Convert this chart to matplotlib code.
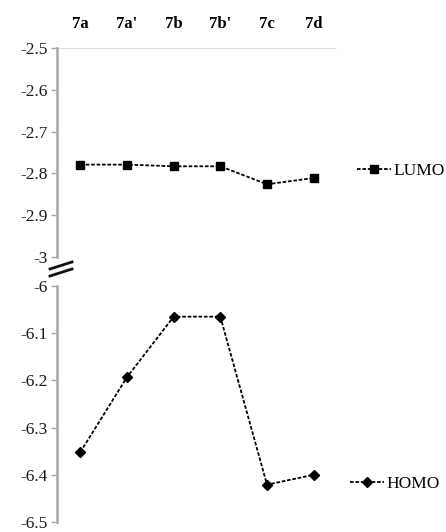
import matplotlib.pyplot as plt
from matplotlib.lines import Line2D

plt.rcParams['font.family'] = ['Liberation Serif', 'DejaVu Serif']

# compounds and orbital energies (eV)
compounds = ["7a", "7a'", "7b", "7b'", "7c", "7d"]
lumo = [-2.779, -2.779, -2.783, -2.783, -2.826, -2.811]
homo = [-6.352, -6.193, -6.065, -6.065, -6.421, -6.400]

lumo_ticks = [-2.5, -2.6, -2.7, -2.8, -2.9, -3]
homo_ticks = [-6, -6.1, -6.2, -6.3, -6.4, -6.5]

W, H = 446, 532
fig = plt.figure(figsize=(W / 100, H / 100), dpi=100)

left = 57 / W
width = (337 - 57) / W
ax_top = fig.add_axes([left, (H - 257) / H, width, (257 - 48) / H])
ax_bot = fig.add_axes([left, (H - 522) / H, width, (522 - 286) / H])

x = list(range(len(compounds)))
grey = '#a6a6a6'

for ax in (ax_top, ax_bot):
    ax.set_xlim(-0.5, len(compounds) - 0.5)
    for s in ('top', 'right', 'bottom'):
        ax.spines[s].set_visible(False)
    ax.spines['left'].set_color(grey)
    ax.spines['left'].set_linewidth(1.8)
    ax.tick_params(axis='y', colors=grey, length=4, width=1, labelsize=12.5,
                   labelcolor='#1a1a1a', pad=3)
    ax.set_xticks([])

ax_top.set_ylim(-3, -2.5)
ax_top.set_yticks(lumo_ticks)
ax_top.set_yticklabels(['-2.5', '-2.6', '-2.7', '-2.8', '-2.9', '-3'])
ax_top.axhline(-2.5, color='#d9d9d9', lw=1.2, zorder=0)

ax_bot.set_ylim(-6.5, -6)
ax_bot.set_yticks(homo_ticks)
ax_bot.set_yticklabels(['-6', '-6.1', '-6.2', '-6.3', '-6.4', '-6.5'])

l1, = ax_top.plot(x, lumo, color='black', ls=(0, (2, 1)), lw=1.3,
                  marker='s', ms=6, label='LUMO', clip_on=False)
l2, = ax_bot.plot(x, homo, color='black', ls=(0, (2, 1)), lw=1.3,
                  marker='D', ms=5, label='HOMO', clip_on=False)

# category labels along the top
for xi, name in zip(x, compounds):
    ax_top.text(xi, 1.115, name, transform=ax_top.get_xaxis_transform(),
                ha='center', va='center', fontsize=12, fontweight='bold')

ax_top.legend(handles=[l1], loc='center left', bbox_to_anchor=(1.07, 0.41),
              frameon=False, handlelength=2.0, handletextpad=0.1,
              fontsize=12.5, borderaxespad=0, borderpad=0)
ax_bot.legend(handles=[l2], loc='center left', bbox_to_anchor=(1.045, 0.16),
              frameon=False, handlelength=2.0, handletextpad=0.1,
              fontsize=12.5, borderaxespad=0, borderpad=0)

# axis break marks
for dy in (0, 7):
    fig.add_artist(Line2D([50 / W, 72 / W],
                          [(H - 269 - dy) / H, (H - 262 - dy) / H],
                          color='#111111', lw=2))

fig.savefig('out.png', dpi=100)
